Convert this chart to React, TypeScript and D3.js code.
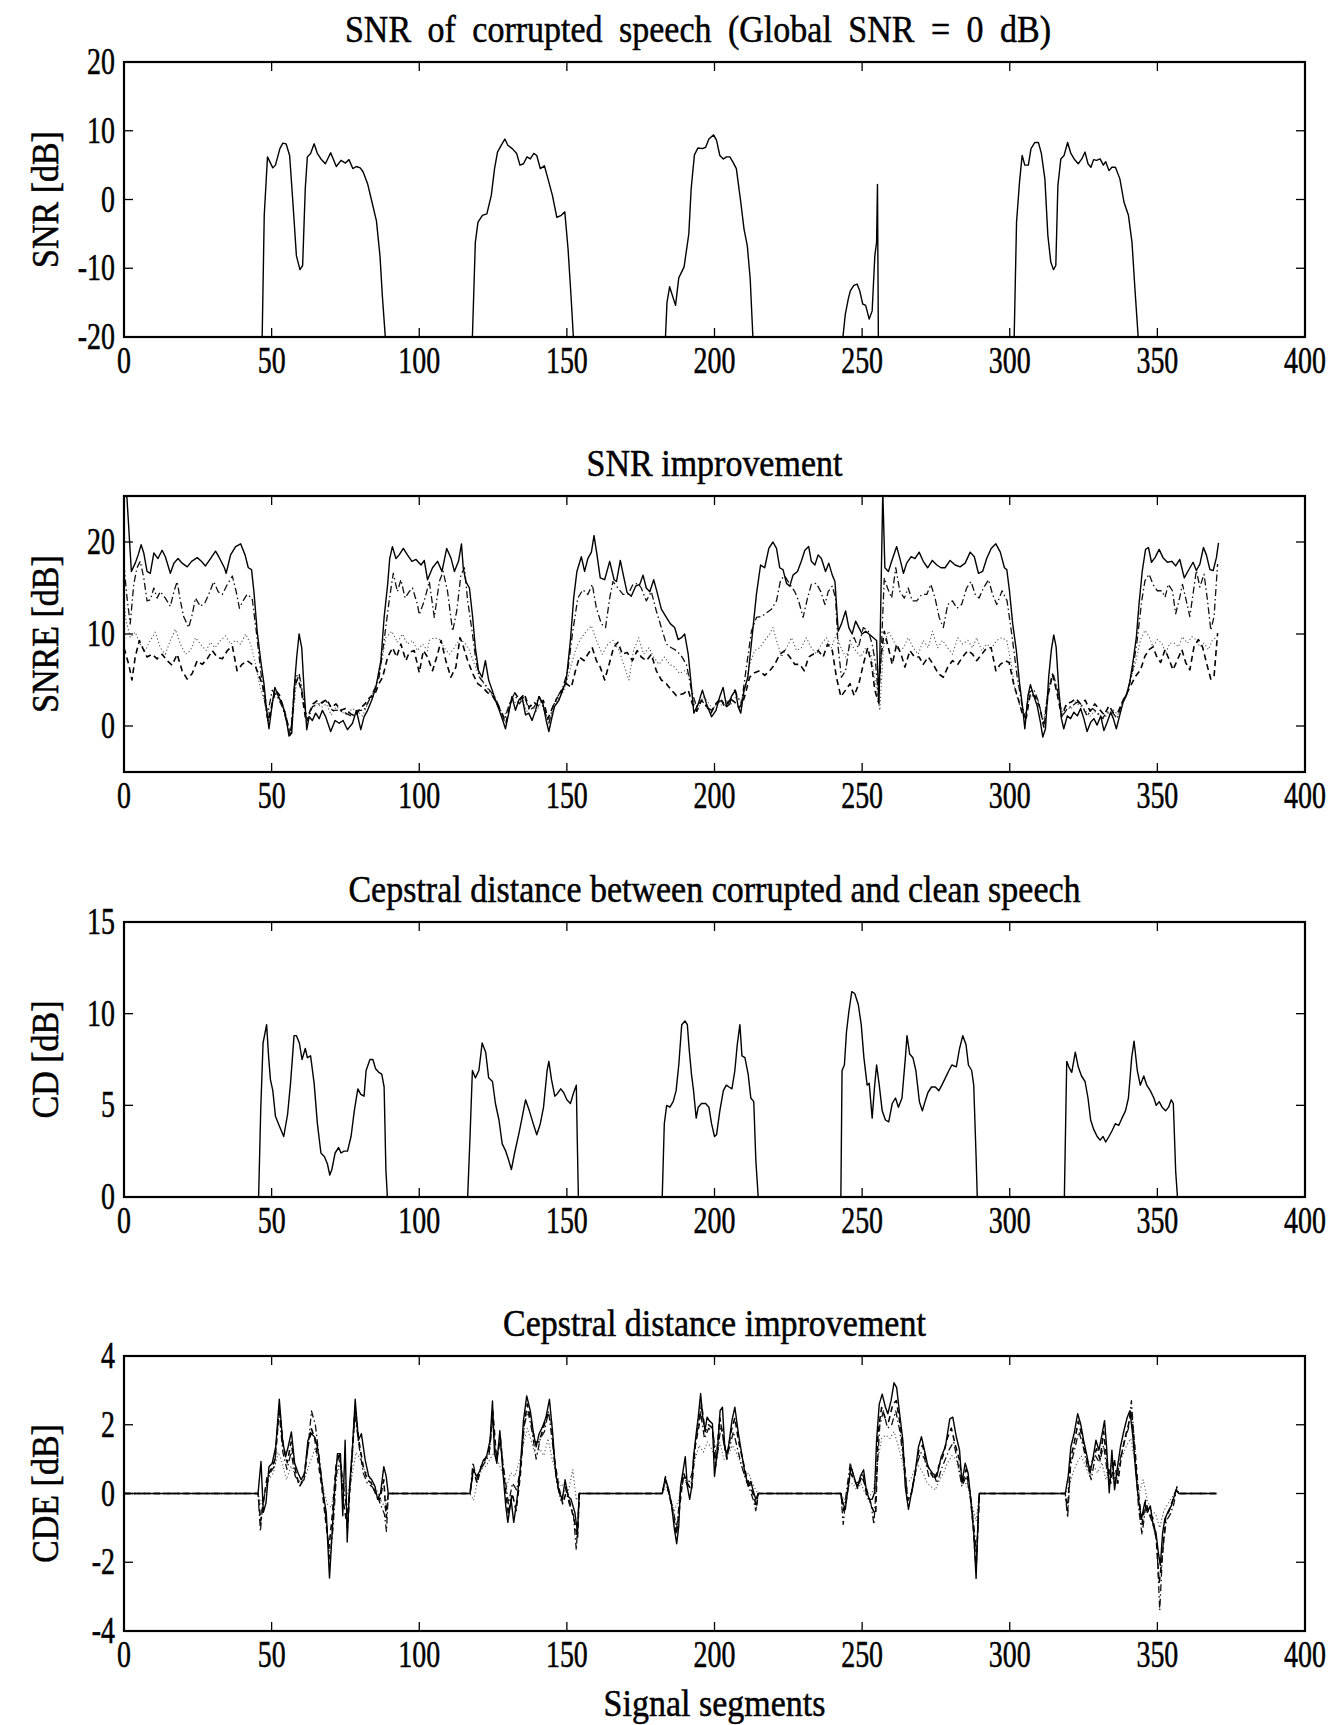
import React from "react";
import * as d3 from "d3";

type Pt = [number, number];

// x axis shared by all four panels
const xTicks = [0, 50, 100, 150, 200, 250, 300, 350, 400];

// panel 1: SNR of corrupted speech
const snrTicks = [-20, -10, 0, 10, 20];
const snrCorrupted: Pt[] = [
  [0, -20], [46.8, -20], [47.5, -2.3], [48.6, 6.2], [50.4, 4.6], [51.3, 5], [52.8, 7.4], [53.8, 8.2], [54.9, 8.1],
  [56.1, 6.4], [57.2, -0.4], [58.4, -8.2], [59.6, -10.2], [60.5, -9.6], [61.4, 1.6], [62.1, 6.2], [63.2, 6.7],
  [64.4, 8.1], [65.5, 6.7], [66.7, 5.9], [68.2, 5.2], [70, 6.8], [71.9, 4.8], [73.5, 5.7], [75, 5.3], [76.2, 5.8],
  [77.5, 4.5], [78.7, 4.8], [80, 4.6], [81, 4], [82.5, 2.3], [84, -0.4], [85.5, -3.1], [86.7, -8.2], [87.5, -14],
  [88.5, -20], [118, -20], [119, -6.2], [119.9, -3.3], [121.4, -2.3], [122.9, -2.1], [124.4, 0.6], [125.5, 4.5],
  [126.5, 6.9], [127.8, 7.9], [129, 8.8], [130, 7.9], [131.5, 7.4], [133, 6.7], [134.1, 5], [135.3, 5.2],
  [136.5, 6.2], [137.6, 5.9], [138.8, 6.7], [139.8, 6.4], [141, 4.5], [142.4, 4.9], [143.6, 3], [145.1, 0.6],
  [146.6, -2.6], [148.1, -2.3], [149.3, -1.8], [150.4, -7.2], [151.4, -14], [152.2, -20], [183.4, -20],
  [183.9, -15], [184.8, -12.7], [186.8, -15.4], [187.9, -11.4], [189.7, -9.8], [191.3, -5], [192.1, 1.6],
  [193.2, 6.5], [194.4, 7.5], [195.9, 7.4], [197, 7.6], [198.1, 8.8], [199.7, 9.4], [200.7, 8.6], [201.8, 6.4],
  [203, 5.9], [204.1, 6.2], [205.2, 6.2], [206.3, 5.4], [207.4, 4.5], [208.9, -0.4], [210, -4.3], [211.1, -6.7],
  [212.1, -11.6], [213, -20], [243.5, -20], [244.3, -16.7], [245.3, -14.5], [246, -13.3], [247.2, -12.5],
  [248.3, -12.3], [249.2, -13.3], [250.2, -15.2], [251.2, -15.4], [252.4, -17.4], [253.4, -16.2], [254.3, -8.2],
  [254.9, -6.2], [255.2, 2.2], [255.5, -20], [301.5, -20], [302.3, -3.3], [303.3, 2.5], [304.2, 6.4], [305.1, 5],
  [306.3, 5], [307.2, 7.4], [308.5, 8.3], [309.7, 8.3], [310.7, 6.7], [311.9, 3], [312.9, -5.2], [313.9, -9.1],
  [314.8, -10.2], [315.6, -9.6], [316.3, 2], [317.3, 5.9], [318.4, 6.4], [319.6, 8.3], [320.7, 6.7], [321.8, 5.9],
  [323.2, 5.2], [324.4, 5.9], [325.5, 6.9], [326.5, 5.2], [327.5, 4.7], [328.4, 5.8], [329.4, 5.7], [330.6, 5.9],
  [331.7, 5], [332.5, 5.5], [333.6, 4.2], [334.6, 4.7], [335.8, 4.7], [337.3, 3], [338.7, -0.4], [340.2, -2.3],
  [341.4, -6.2], [342.4, -13], [343.5, -20], [370, -20],
];

// panel 2: SNR improvement, four methods
const snreTicks = [0, 10, 20];
const snreSolid: Pt[] = [
  [0, 25.5], [1, 24.8], [2.5, 16.8], [3.8, 17.7], [4.8, 18.6], [5.8, 19.7], [6.7, 18.8], [7.8, 16.8], [8.9, 16.6],
  [10.1, 18.8], [11.5, 18.2], [12.9, 19.1], [14, 18.4], [15.7, 16.6], [16.9, 17.7], [18.3, 18.2], [19.7, 17.7],
  [21.4, 17.3], [22.9, 17.9], [24.8, 18.3], [26.2, 17.9], [27.6, 17.4], [29.3, 18.2], [31, 19], [32.1, 18.4],
  [34, 17.2], [34.6, 16.6], [36.1, 18.6], [37.8, 19.5], [39.5, 19.8], [41, 18.6], [42.1, 17.2], [43.2, 17],
  [44, 14.6], [45.1, 10.3], [46.3, 7.1], [47.4, 4.6], [48.3, 1.7], [49.1, -0.3], [50.2, 2.4], [51.1, 4.2],
  [52.3, 3.2], [53.6, 2.4], [54.8, 1], [55.9, -1.1], [56.8, -0.8], [57.6, 3.9], [58.5, 7.5], [59.3, 10],
  [60.2, 8.5], [61, 3.9], [61.9, -0.4], [62.7, 1], [63.8, 0.6], [64.9, 1.4], [66.1, 0.8], [67.2, 1.7], [68.3, 1],
  [70, -0.6], [71.5, 0.6], [72.9, 0.3], [74.2, 0.6], [75.7, -0.4], [77.4, 0.3], [78.7, 1.7], [80.2, -0.4],
  [81.3, 1], [82.5, 1.7], [83.9, 2.8], [85.3, 4.2], [87, 7.1], [88.1, 11.8], [89.3, 15.4], [90, 18.2],
  [90.9, 19.5], [92.1, 18.2], [93.2, 18.6], [94.6, 19.3], [96, 18.6], [97.5, 17.9], [98.9, 18.1], [100.6, 17.5],
  [101.7, 18], [102.8, 15.9], [104.5, 17.2], [106.2, 17.9], [107.7, 16.8], [109.3, 19.3], [110.8, 18.2],
  [111.9, 16.8], [113.3, 17.9], [114.3, 19.8], [114.9, 17.2], [115.8, 15.7], [117, 15], [118.1, 11.8], [119, 8.5],
  [120.1, 6], [121.3, 5.3], [122.4, 7.1], [123.5, 5], [124.7, 3.9], [125.8, 2.8], [127.1, 1.7], [128.3, 0.6],
  [129.2, -0.3], [130.3, 1.4], [131.4, 3.2], [132.6, 1.7], [133.7, 2.8], [134.8, 3.2], [136, 1.2], [137.1, 1.4],
  [138.2, 0.6], [139.4, 1.7], [140.5, 3.2], [141.9, 2.4], [143, 0.6], [143.9, -0.6], [144.7, 0.6], [145.8, 2.1],
  [147.3, 2.8], [148.6, 3.9], [149.8, 5], [151.2, 9.3], [152.3, 13.9], [153.4, 16.8], [154.9, 18.4], [156, 16.8],
  [157.1, 18.2], [158.3, 18.9], [159.2, 20.7], [160.2, 18.6], [161.3, 16.1], [162.8, 15.9], [164.5, 17.9],
  [166, 15.9], [166.8, 15.7], [168.1, 18], [169.2, 16.3], [170.4, 14.5], [171.8, 14.1], [173.3, 15.2],
  [174.7, 15.4], [175.8, 16.4], [176.9, 15], [178.1, 14.6], [179.4, 15.9], [180.5, 14.6], [182, 12.7],
  [183.7, 11.8], [185.1, 11.1], [186.5, 10.7], [187.7, 9.4], [188.8, 9.6], [189.9, 10], [191.1, 7.8], [192.2, 4.2],
  [193, 1.4], [194.5, 2.4], [195.9, 3.9], [197.3, 2.4], [199, 1], [200.5, 1.7], [201.8, 3.2], [202.9, 4.2],
  [204.1, 2.1], [205.2, 2.4], [205.7, 3.2], [207.1, 3.9], [208, 2.1], [208.9, 1.4], [210, 3.9], [211.3, 5.3],
  [212.7, 9.6], [214.2, 14.3], [215.6, 17.5], [217, 17.2], [218.4, 19.3], [219.8, 20], [221, 19.3], [222.1, 17.2],
  [223.2, 17], [224.4, 15.5], [225.5, 15.2], [226.6, 16.4], [228.1, 16.8], [229.4, 17.9], [230.6, 19.1],
  [231.9, 19.5], [232.8, 17.9], [234, 17.5], [235.1, 18.6], [236.2, 18.2], [237.6, 16.8], [238.7, 17.7],
  [239.9, 16.4], [240.8, 15.7], [241.9, 10.3], [243, 11.1], [244.4, 12.5], [245.5, 10.7], [246.6, 10],
  [247.8, 11.4], [248.9, 10.7], [250, 10], [251.2, 10.3], [252.3, 10], [253.8, 9.6], [254.9, 9.3], [255.7, 2.4],
  [256.1, 9.3], [257, 25.5], [257.7, 17.2], [258.9, 16.8], [260, 17.9], [261.7, 19.5], [262.8, 18.2], [264, 16.6],
  [265.1, 17.7], [266.6, 18.4], [267.9, 18.2], [269.3, 18.9], [270.7, 17.9], [272.2, 17.2], [273.8, 18],
  [275.3, 17.5], [276.7, 17.2], [278.1, 17.2], [279.8, 18], [281.5, 17.5], [283.2, 17.3], [284.9, 17.7],
  [286.6, 18.9], [288, 18.4], [289.4, 16.6], [290.8, 16.8], [292.2, 18.2], [293.7, 19.3], [295.3, 19.8],
  [296.8, 18.9], [298.2, 17.2], [299, 17], [299.9, 14.7], [301, 11.1], [302.2, 8.3], [303.3, 4.7], [304.4, 1.9],
  [305.1, -0.3], [306.2, 3.3], [307, 4.5], [308.1, 3.3], [309.3, 2.2], [310.4, 0.4], [311.2, -1.2], [312.1, -0.3],
  [313.2, 5.4], [314.1, 8.3], [314.9, 9.9], [315.7, 8.6], [316.6, 4], [317.5, 0.8], [318.3, -0.3], [319.5, 1.1],
  [320.6, 0.8], [321.7, 1.5], [322.9, 1.1], [324, 1.9], [325.1, 0.8], [326.2, -0.6], [327.4, 0.4], [328.5, 0.8],
  [329.6, 0.1], [330.8, 1.1], [331.9, -0.5], [333, 0.4], [334.2, 1.5], [335.1, 0.8], [336.1, -0.3], [337.2, 1.1],
  [338.4, 2.6], [339.5, 3.3], [340.6, 4.7], [341.7, 6.9], [342.9, 9.7], [343.8, 13.3], [344.9, 16.9], [346, 19.2],
  [347, 19.4], [348, 17.8], [349.2, 18.3], [350.6, 19.2], [351.9, 18.3], [353.4, 17.8], [354.9, 17.9],
  [356.2, 17.4], [357.6, 18.1], [359.1, 16.1], [360.5, 16.9], [362.1, 17.8], [363.2, 16.9], [364.4, 17.6],
  [365.6, 19.4], [366.6, 18.6], [367.8, 17], [368.9, 16.9], [370, 18.3], [370.7, 19.9],
];
const snreDashDot: Pt[] = [
  [0, 17.5], [1, 14], [2.1, 11.1], [3.3, 15.4], [4.4, 17.2], [5.5, 17.9], [6.7, 16.1], [7.8, 13.6], [8.9, 13.7],
  [10.1, 15], [11.2, 13.9], [12.3, 14.6], [14, 13.9], [15.7, 13], [16.9, 14.6], [18, 15.7], [19.1, 13.6],
  [20.2, 11.9], [21.9, 10.7], [23.1, 12.1], [24.2, 13.9], [25.9, 13], [27.4, 13.4], [28.7, 14.3], [30.4, 15.7],
  [31.9, 14.6], [33.3, 14.3], [35, 15.4], [36.7, 16.3], [38, 14.6], [39.1, 12.8], [40.3, 13.6], [41.7, 14.3],
  [43.4, 13.9], [44.8, 10.3], [46.3, 6], [47.4, 3.2], [48.5, 1], [50.2, 3.9], [51.9, 3.2], [53.6, 2.1],
  [55.3, 0.3], [56.4, -1.1], [58.1, 5.3], [59.3, 5.7], [60.6, 3.2], [62.1, 0.6], [63.8, 2.1], [66.1, 2.4],
  [68.3, 2.8], [70.6, 1.7], [72.9, 1.7], [75.1, 1.4], [77.4, 1], [79.1, 1.7], [81.3, 1.7], [83, 2.8], [84.7, 3.9],
  [86.4, 5.3], [88.1, 9.3], [89.8, 13.6], [91.2, 16.6], [92.6, 14.6], [93.8, 15.9], [95.2, 13.9], [96.6, 14.6],
  [97.7, 15], [99.4, 13.2], [100, 12.1], [101.7, 13.6], [103.4, 15.7], [105.1, 11.8], [106.8, 15.7], [108.1, 16.8],
  [109.6, 14.6], [111.3, 10.3], [112.7, 12.5], [114.1, 16.4], [115.3, 17.2], [116.4, 13.6], [117.9, 10.3],
  [119.2, 7.1], [120.4, 5.3], [122.1, 4.6], [123.8, 3.9], [125.5, 3.2], [127.1, 2.1], [128.8, 0.6], [130.5, 2.4],
  [132.2, 3.5], [133.9, 2.4], [135.6, 3.2], [137.3, 1.7], [139, 2.1], [140.7, 3.2], [142.4, 1.7], [143.9, 0.3],
  [145.2, 2.1], [146.9, 3.2], [148.6, 4.2], [150.3, 6], [152, 10.3], [153.7, 13.9], [155.4, 14.8], [157.1, 14.3],
  [158.6, 15.4], [160, 12.8], [161.7, 11.1], [163.1, 10.7], [164.5, 13.9], [165.6, 15.7], [167.3, 15], [169, 14.3],
  [170.7, 14.3], [172.4, 15.4], [174.1, 15.5], [175.2, 15], [176.9, 13.6], [178.6, 14.6], [180.3, 12.5],
  [182, 10.7], [183.7, 8.9], [185.4, 8.5], [187.1, 8.2], [188.8, 7.6], [190.5, 6.7], [192.2, 3.9], [193.9, 2.1],
  [195.6, 2.8], [197.3, 2.1], [199, 1.7], [200.7, 2.4], [202.4, 2.8], [204.1, 2.1], [206.8, 3.9], [209.1, 2.4],
  [210.8, 6.4], [212.5, 10.3], [214.2, 11.8], [215.9, 11.9], [217.6, 12.3], [219.3, 12.7], [221, 13.6],
  [222.4, 15.9], [223.8, 16.3], [225.5, 15.4], [227.2, 14.6], [228.5, 13.6], [230, 11.8], [231.5, 13.9],
  [232.8, 15.4], [234.5, 15.5], [236, 14.6], [237.4, 13.2], [238.5, 14.6], [239.9, 15.2], [241, 13.9],
  [241.9, 8.5], [243, 5.3], [244.4, 6], [245.9, 9.3], [247.3, 9.6], [248.7, 8.5], [250.4, 10.7], [252.1, 10.3],
  [253.4, 8.9], [254.6, 6.7], [255.5, 3.2], [256.4, 7.5], [257.5, 16.1], [258.6, 15], [260, 13.9], [261.4, 17.2],
  [262.8, 14.6], [264.3, 13.9], [265.6, 15], [267, 13.6], [268.5, 13.6], [270.2, 14.3], [271.9, 14.3],
  [273.3, 15.4], [274.7, 13.9], [276.1, 11.8], [277.5, 10.7], [279, 13.2], [280.6, 13.6], [282.1, 12.8],
  [283.7, 13.2], [285.4, 15], [286.9, 15.7], [288.3, 14.3], [289.6, 13.9], [291.1, 15], [292.8, 15.9],
  [294.2, 14.3], [295.6, 13.2], [297.4, 14.7], [299.1, 13.6], [300.8, 9.7], [302.5, 5.4], [304.2, 2.2],
  [305.3, 0.8], [306.4, 3.6], [308.1, 4], [309.8, 2.6], [311.5, 0.1], [313.2, 4], [314.6, 5.8], [316.1, 4],
  [317.8, 1.1], [319.5, 1.9], [321.2, 2.2], [322.9, 2.6], [324.5, 2.2], [326.2, 1.1], [328, 1.9], [329.6, 1.5],
  [331.3, 0.8], [333, 1.5], [334.7, 1.5], [336.4, 0.8], [338.1, 2.6], [339.8, 3.6], [341.5, 5.8], [343.2, 9.4],
  [344.7, 13.6], [345.8, 15.8], [347.2, 16.5], [348.5, 15.4], [350, 14.7], [351.5, 14.7], [352.6, 14],
  [353.7, 15.4], [355.1, 14.7], [356.2, 12.2], [357.6, 14], [358.5, 15.4], [359.8, 13.6], [361, 11.9],
  [362.1, 14.4], [363.2, 16.9], [364.4, 15.1], [365.8, 16.5], [367, 13.6], [368.1, 10.4], [369.2, 11.9],
  [370.4, 17.6],
];
const snreDotted: Pt[] = [
  [0, 14], [0.5, 11.8], [2.1, 9.6], [3.8, 10.2], [5.5, 8.9], [7.2, 8.2], [8.9, 9.3], [10.6, 10.2], [12.3, 8.5],
  [14, 7.8], [15.7, 9.3], [17.4, 10.5], [19.1, 8.9], [20.8, 7.8], [22.5, 8.2], [24.2, 9.6], [25.9, 8.9],
  [27.8, 8.2], [29.3, 9.1], [30.8, 8.5], [32.7, 9.3], [34.4, 9.8], [36.1, 8.9], [37.8, 9.3], [39.5, 8.9],
  [41.2, 10], [42.9, 8.9], [44.6, 6.7], [46.3, 3.9], [48, 2.4], [49.5, 0.8], [50.5, 2.8], [51.8, 3.6], [53.2, 2.6],
  [54.6, 1.6], [56, -0.6], [57, 0.2], [58.4, 4.8], [59.5, 5.6], [60.6, 3.5], [62, 0.4], [63.5, 1.9], [65, 2.6],
  [66.8, 2], [68.5, 2.4], [70.2, 1.2], [72, 2.1], [73.8, 1.5], [75.6, 1.2], [77.3, 1.9], [79, 1.6], [80.8, 1.1],
  [82.5, 2.4], [84.2, 3.5], [85.8, 4.8], [87.3, 7], [88.7, 9.6], [90.7, 10.3], [92.6, 9.1], [94.3, 10], [96, 8.9],
  [97.7, 9.3], [99.4, 8.2], [101.1, 8.9], [102.8, 8.2], [103.4, 9.3], [105.1, 9.6], [106.8, 9.4], [108.5, 8.5],
  [110.2, 7.8], [111.9, 8.5], [113.6, 9.4], [115.3, 9.1], [117, 8.2], [118.7, 6.7], [120.4, 5.3], [122, 4.5],
  [123.6, 3.8], [125.2, 3], [126.8, 2.2], [128.5, 1], [130, 1.8], [131.6, 3], [133.2, 2.2], [134.8, 2.9],
  [136.4, 1.6], [138, 2.2], [139.6, 1.6], [141.2, 2.6], [142.8, 1.2], [144, 0.4], [145.4, 1.8], [147, 2.9],
  [148.6, 3.6], [149.8, 4.6], [151.5, 6.7], [153.2, 8.5], [154.9, 9.6], [156.6, 10.3], [158.3, 10.9], [160, 9.3],
  [162, 7.8], [163.9, 8.9], [165.6, 9.3], [167.7, 8.2], [169.2, 6.7], [171, 5], [172.6, 8.2], [174.3, 9.6],
  [176, 7.8], [177.8, 8.5], [179.4, 7.5], [181.2, 6.7], [183.1, 7.5], [184.8, 6.7], [186.5, 6.4], [188.2, 5.7],
  [189.9, 6], [191.6, 5.3], [193, 2.4], [194.6, 2], [196.2, 3.2], [197.8, 2.6], [199.4, 1.8], [201, 2.6],
  [202.6, 2.2], [204.2, 2.8], [205.8, 2.4], [207.4, 3.3], [208.8, 2.6], [210.2, 3.9], [211.9, 6.7], [213.6, 8.2],
  [215.3, 8.5], [217, 9.3], [218.7, 10], [219.8, 10.7], [221, 9.3], [222.7, 7.5], [224.4, 8.5], [226.1, 9.6],
  [227.8, 8.2], [229.4, 8.5], [231.1, 9.6], [232.8, 8.5], [234.5, 7.8], [236.2, 8.9], [237.9, 9.6], [239.6, 8.5],
  [241.3, 10], [242.8, 8.5], [244.4, 7.5], [246.2, 8.9], [247.8, 8.2], [249.6, 7.5], [251.2, 8.5], [253, 7.8],
  [254.6, 4.6], [256, 1.7], [257.2, 8.5], [258.9, 10.3], [260.6, 9.3], [262.3, 8.2], [264, 8.5], [265.6, 9.6],
  [267.3, 8.5], [269, 7.8], [270.7, 9.3], [272.4, 8.5], [273.8, 10.3], [275.6, 8.5], [277.2, 9.3], [279, 8.5],
  [280.6, 7.8], [282.4, 9.6], [284, 8.9], [285.8, 9.3], [287.4, 8.5], [288.8, 9.6], [290.5, 8.2], [292.2, 8.9],
  [293.9, 8.5], [295.6, 9.3], [297.3, 9.6], [299, 9.3], [300.5, 6.7], [301.8, 3.9], [303.5, 2.1], [305, 1],
  [306.6, 3], [308.2, 3.4], [309.8, 2.6], [311.4, 0.4], [312.8, 3.6], [314.4, 5.4], [315.8, 4.2], [317.4, 1.4],
  [319, 2.2], [320.6, 1.8], [322.2, 2.6], [323.8, 2.2], [325.4, 1.8], [327, 1], [328.6, 1.6], [330.2, 1.2],
  [331.8, 0.8], [333.4, 1.4], [335, 1.8], [336.6, 1.2], [338.2, 2.6], [339.3, 3.3], [341, 5.1], [342.6, 6.9],
  [344.3, 9.4], [345.8, 10.4], [347.2, 9.7], [348.5, 8.6], [350, 9.4], [351.5, 9], [352.8, 7.9], [354.2, 9],
  [355.7, 9], [357.1, 8.6], [358.5, 9.7], [360.2, 9], [361.7, 9.7], [363, 9.4], [364.4, 8.6], [365.8, 9],
  [367.3, 8.3], [368.7, 9.4], [370.4, 9.7],
];
const snreDashed: Pt[] = [
  [0, 8.5], [1.6, 6.7], [2.7, 5], [3.8, 7.5], [5.2, 9.3], [6.3, 8.5], [7.8, 7.5], [9.5, 7.8], [11.2, 7.3],
  [12.9, 7.8], [14.6, 7.1], [16.3, 6.6], [18, 7.8], [19.7, 6], [21.4, 5.1], [23.1, 5.7], [24.8, 7.1], [26.5, 6.7],
  [28.2, 7.3], [29.9, 8.2], [31.5, 7.5], [33.3, 7.3], [35, 8.2], [36.7, 8.7], [38.3, 6], [40, 6.7], [41.7, 7.1],
  [43.4, 6.7], [44.6, 6.4], [46.3, 5], [47.5, 3.8], [48.8, 0.5], [50, 2.2], [51.3, 3.9], [52.6, 3.4], [54, 2],
  [55.5, 0.2], [56.6, -0.5], [57.8, 4.2], [58.8, 5.2], [60, 4], [61.4, 1], [62.6, 1.3], [64, 2.4], [65.6, 2.8],
  [67, 2.5], [68.6, 2.9], [70.2, 2], [71.8, 2.4], [73.5, 1.7], [75, 1.9], [76.8, 1.3], [78.4, 1.1], [80, 1.9],
  [81.6, 2.4], [83.2, 3.1], [84.8, 3.3], [86.2, 4.5], [87.6, 5.3], [89.3, 7.5], [91, 8.5], [92.3, 7.5],
  [93.8, 8.9], [95.5, 7.1], [96.6, 8], [98.3, 8.2], [100, 5.8], [101.4, 8.2], [102.8, 7.5], [104.5, 6],
  [106.2, 7.8], [107.4, 9.3], [109, 7.1], [110.7, 5.3], [112.4, 6.4], [113.8, 9.6], [114.7, 8.9], [116.4, 7.1],
  [118.1, 5.7], [119.8, 4.6], [121.5, 4.2], [123.2, 3.6], [124.8, 3.3], [126.4, 2.4], [128, 1.4], [129.4, 0.4],
  [130.8, 2.4], [132.4, 3.6], [134, 2.8], [135.6, 3.5], [137.2, 2], [138.8, 2.6], [140.4, 2.2], [142, 2.8],
  [143.6, 0.8], [145, 1.9], [146.6, 3], [148.2, 3.8], [149.8, 4.6], [151.5, 4.2], [152.9, 6], [154.3, 7.5],
  [155.8, 7.1], [157.1, 7.8], [158.6, 8.5], [160, 7.1], [161.3, 6.4], [162.8, 5], [164.3, 6.7], [165.8, 8.5],
  [167.3, 9.1], [168.8, 7.8], [170.4, 8], [172.2, 7.1], [173.8, 8.2], [175.2, 7.5], [176.9, 7.1], [178.6, 7.8],
  [180.3, 6], [182, 5], [183.7, 4.6], [185.4, 3.9], [187.1, 3.3], [189.4, 3.5], [191.1, 3.9], [192.5, 2.4],
  [194, 1.6], [195.6, 2.8], [197.2, 2.2], [198.8, 1.4], [200.4, 2.4], [202, 3], [203.6, 2], [205.2, 3],
  [206.8, 2.6], [208.4, 2], [209.6, 2.6], [210.2, 3.2], [211.9, 5.3], [213.6, 5.8], [215.3, 6], [217, 5.5],
  [218.7, 6], [220.4, 6.7], [222.1, 7.8], [223.8, 8.2], [225.5, 7.5], [227.2, 6.7], [228.9, 6.7], [230.4, 6],
  [231.9, 7.5], [233.4, 7.8], [235.1, 8.2], [236.8, 7.5], [238.3, 8.9], [239.9, 8.2], [241.3, 5.3], [242.8, 3.2],
  [244.4, 3.9], [245.9, 4.6], [247.3, 3.3], [248.9, 4.6], [250.4, 6.7], [251.9, 8.5], [253.2, 6.7], [254.3, 3.9],
  [255.5, 2.6], [256.4, 7.5], [257.5, 10.3], [258.9, 8.5], [260.2, 6.7], [261.7, 8.9], [263.2, 7.8], [264.5, 6.4],
  [266.2, 8.2], [267.7, 7.5], [269.3, 7.5], [270.7, 6.7], [272.4, 7.5], [274.1, 6.7], [275.8, 5.7], [277.5, 5.3],
  [279, 6.4], [280.6, 7.1], [282.4, 6.7], [284, 7.5], [285.8, 8.2], [287.4, 7.8], [288.8, 7.1], [290.5, 7.8],
  [292.2, 8.5], [293.7, 8.5], [295.3, 6], [296.8, 6.7], [298.5, 7.1], [299.8, 6.9], [301.3, 4.6], [303, 2.8],
  [304.4, 1.2], [305.6, 0.9], [307, 3.6], [308.6, 3.2], [310.2, 2], [311.6, -0.2], [313, 3.4], [314.5, 5.6],
  [316, 3.6], [317.6, 1], [319.2, 2.4], [320.8, 2.6], [322.4, 3], [324, 2.4], [325.6, 2.8], [327.2, 1.6],
  [328.8, 2.4], [330.4, 1.8], [332, 1.2], [333.6, 2.2], [335.2, 1.4], [336.8, 1.6], [338.4, 2.8], [339.3, 3.3],
  [341, 4.4], [342.6, 5.4], [344.3, 6.1], [345.8, 7.6], [347.2, 8.3], [348.5, 8.6], [349.7, 7.6], [351.1, 6.9],
  [352.6, 8.3], [354, 7.2], [355.3, 6.1], [356.8, 7.2], [358.3, 8.3], [359.6, 6.9], [361, 6.1], [362.4, 8.6],
  [363.9, 9.4], [365.3, 8.6], [366.6, 6.9], [368.1, 5.1], [369.2, 5.4], [370.4, 10.1],
];

// panel 3: cepstral distance, corrupted vs clean
const cdTicks = [0, 5, 10, 15];
const cdCorrupted: Pt[] = [
  [0, 0], [45.6, 0], [46.3, 4.7], [47.1, 8.4], [48.3, 9.4], [49, 7.6], [49.6, 6.4], [50.4, 5.8], [51.3, 4.4],
  [52.3, 4], [54.1, 3.3], [55.4, 4.5], [56.4, 6.2], [57.6, 8.8], [58.4, 8.8], [59.4, 8.4], [60.3, 7.5], [61.4, 8.1],
  [62.1, 7.6], [63.2, 7.7], [64.4, 6.2], [65.5, 4], [66.7, 2.4], [67.9, 2.2], [68.9, 1.8], [69.7, 1.2], [70.4, 1.5],
  [71.5, 2.4], [72.7, 2.7], [73.5, 2.4], [74.5, 2.5], [75.7, 2.5], [76.9, 3.3], [78, 4.7], [79.2, 5.9], [80.2, 5.6],
  [81.3, 5.5], [82, 6.9], [83.3, 7.5], [84.3, 7.5], [85.2, 7], [86.3, 6.8], [87.3, 6.7], [88.1, 6], [88.7, 1.5],
  [89.2, 0], [116.4, 0], [117.2, 3.3], [118, 6.9], [119, 6.5], [120.2, 6.9], [121.3, 8.4], [122.5, 7.9],
  [123.5, 6.5], [124.8, 6.3], [125.8, 5.1], [127, 4.2], [128.1, 2.9], [129.3, 2.5], [130.3, 2], [131.2, 1.5],
  [132.3, 2.4], [133.8, 3.5], [134.8, 4.3], [136, 5.3], [137.3, 4.7], [138.6, 4], [139.8, 3.4], [141, 4],
  [142.1, 4.9], [143.3, 6.9], [143.9, 7.4], [144.8, 6.4], [145.9, 5.5], [146.6, 5.6], [147.9, 5.9], [148.9, 5.7],
  [150, 5.3], [151.2, 5.1], [152.3, 5.7], [153.2, 6.1], [153.5, 3.3], [153.9, 0], [182.3, 0], [183, 4], [183.8, 5],
  [184.9, 4.9], [186, 5.2], [187, 5.8], [187.9, 7.2], [188.9, 9.4], [190, 9.6], [190.8, 9.4], [191.4, 8.1],
  [192.2, 6.7], [192.9, 5.8], [193.8, 4.3], [194.5, 4.9], [195.6, 5.1], [197, 5.1], [198.1, 4.9], [199, 4],
  [200, 3.3], [200.7, 3.4], [201.8, 4.7], [203, 5.8], [204, 6.1], [204.9, 6], [205.9, 5.9], [206.9, 6.9],
  [207.7, 8.3], [208.6, 9.4], [209.3, 7.7], [210.3, 7.6], [211.4, 6.7], [212.3, 5.4], [213.3, 5.2], [214, 2],
  [214.8, 0], [242.8, 0], [243.2, 6.9], [244, 7.2], [244.7, 9], [245.5, 10.1], [246.5, 11.2], [247.5, 11.1],
  [248.7, 10.5], [249.7, 9.4], [250.6, 7.6], [251.7, 6.1], [252.4, 6.2], [253.4, 4.3], [254.2, 6], [254.9, 7.2],
  [255.8, 6.1], [256.8, 4.7], [257.9, 4.2], [259, 4.1], [260.2, 5.1], [261.3, 5.4], [262.3, 4.9], [263.5, 5.4],
  [264.7, 7.7], [265.2, 8.8], [266.1, 7.8], [267.2, 7.6], [268.2, 6.9], [269.4, 5.2], [270.4, 4.7], [271.3, 5.2],
  [272.3, 5.7], [273.5, 6], [274.8, 6], [276, 5.8], [277, 6.1], [278.2, 6.5], [279.4, 6.9], [280.4, 7.2],
  [281.9, 7.1], [283, 8.1], [284.1, 8.8], [285.2, 8.3], [286, 7.2], [287.1, 6.9], [287.8, 6.1], [288.6, 2.2],
  [289, 0], [318.5, 0], [319.3, 7.4], [320, 7.1], [321, 6.8], [322.2, 7.9], [323.2, 7.1], [324.3, 6.6],
  [325.5, 6.3], [326.5, 5.4], [327.4, 4.2], [328.4, 3.7], [329.6, 3.3], [330.6, 3.1], [331.6, 3.3], [332.5, 3],
  [333.6, 3.3], [334.6, 3.6], [335.8, 4], [336.9, 3.9], [338, 4.3], [339.2, 4.7], [340.2, 5.4], [341.3, 7.6],
  [342.1, 8.5], [343.2, 6.9], [344.2, 6.1], [345.4, 6.6], [346.4, 6.1], [347.6, 5.8], [348.8, 5.4], [349.6, 5],
  [350.6, 5.2], [351.6, 4.9], [352.8, 4.7], [353.8, 4.9], [354.7, 5.3], [355.4, 5.1], [356.2, 1.4], [356.8, 0],
  [370, 0],
];

// panel 4: cepstral distance improvement, four methods
const cdeTicks = [-4, -2, 0, 2, 4];
const cdeSolid: Pt[] = [
  [0, 0], [45.4, 0], [46.4, 0.93], [47.2, -0.55], [48.1, -0.27], [49.1, 0.78], [50.2, 0.88], [51.4, 1.36],
  [52.6, 2.74], [53.7, 1.55], [54.7, 1.07], [55.6, 1.36], [56.7, 1.79], [57.8, 0.88], [59, 0.59], [60, 0.4],
  [61.2, 0.59], [62.3, 1.55], [63.5, 1.74], [64.6, 1.64], [65.5, 1.36], [66.5, 0.69], [67.6, -0.08], [68.5, -0.55],
  [69.6, -2.46], [70.5, -1.13], [71.4, 0.21], [72.3, 1.16], [73.3, 1.16], [74.1, -0.65], [74.9, 1.55],
  [75.6, -1.41], [76.4, 0.21], [77.4, 1.36], [78.3, 2.74], [79.4, 1.55], [80.4, 1.74], [81.7, 0.97], [82.9, 0.5],
  [83.9, 0.4], [85, 0.21], [85.9, -0.17], [86.9, 0.02], [88, 0.78], [88.8, 0.5], [89.5, 0], [117.2, 0],
  [118.3, 0.69], [119.5, 0.5], [120.7, 0.69], [121.7, 0.97], [122.8, 1.07], [124, 1.55], [124.8, 2.69],
  [125.5, 1.16], [126.3, 0.88], [127.3, 1.83], [128.2, 0.78], [129.3, -0.36], [130, -0.84], [131.1, -0.17],
  [132, -0.84], [133.1, -0.17], [134.1, 0.59], [135.3, 2.12], [136.4, 2.84], [137.6, 2.41], [138.7, 1.74],
  [139.6, 1.36], [140.6, 1.74], [141.7, 1.93], [142.9, 2.21], [144.1, 2.74], [145.2, 1.74], [146.2, 0.59],
  [147.4, 0.02], [148.5, -0.17], [149.4, 0.4], [150.4, -0.08], [151.4, -0.17], [152.7, -0.55], [153.6, -1.13],
  [154.2, 0], [182.3, 0], [183.3, 0.45], [184.5, 0.11], [185.5, -0.36], [186.4, -1.03], [187.2, -1.46],
  [187.9, -0.94], [188.5, 0.21], [189.4, 0.69], [190.1, 1.07], [190.8, 0.21], [191.6, -0.17], [192.3, 0.21],
  [192.9, 1.07], [193.8, 1.74], [194.5, 2.22], [195.3, 2.91], [196, 2.22], [196.8, 1.84], [197.5, 2.22],
  [198.2, 2.12], [199.3, 2.03], [200, 0.5], [201, 1.26], [201.9, 2.41], [202.7, 2.51], [203.4, 1.45],
  [204.1, 1.07], [204.9, 1.45], [205.9, 2.12], [206.9, 2.51], [208.1, 1.74], [209.2, 1.17], [210.3, 0.59],
  [211.5, 0.21], [212.3, 0.35], [213.3, 0.02], [214, -0.17], [214.8, 0], [242.8, 0], [243.5, -0.27],
  [244.3, -0.46], [245.3, 0.21], [246.2, 0.78], [247.2, 0.5], [248.4, 0.16], [249.4, 0.5], [250.5, 0.69],
  [251.4, 0.11], [252.4, -0.17], [253.4, -0.17], [254.2, 0.02], [254.9, 1.55], [255.8, 2.6], [256.8, 2.89],
  [257.9, 2.51], [258.7, 2.32], [259.8, 2.7], [260.8, 3.22], [261.7, 3.08], [262.7, 2.32], [263.8, 1.55],
  [264.6, 0.21], [265.7, -0.46], [266.7, 0.02], [267.9, 0.59], [269.1, 1.36], [270.1, 1.65], [271.1, 1.26],
  [272.3, 0.78], [273.8, 0.59], [275.3, 0.5], [276.8, 1.07], [278.2, 1.36], [279.7, 2.17], [280.7, 2.22],
  [281.9, 1.65], [283, 1.26], [283.8, 0.31], [284.9, 0.88], [285.9, 0.59], [286.8, -0.17], [287.8, -1.13],
  [288.6, -2.47], [289.3, -0.65], [289.7, 0], [318.8, 0], [319.8, 0.5], [320.7, 1.36], [321.8, 1.74], [323, 2.32],
  [324, 2.03], [325, 1.55], [326.2, 1.07], [327.2, 0.59], [328.1, 0.98], [329.2, 1.55], [330.2, 1.26],
  [331.1, 1.65], [332.1, 2.12], [332.8, 1.36], [333.7, 0.02], [334.6, 1.26], [335.5, 0.11], [336.5, 0.78],
  [337.5, 1.36], [338.7, 1.84], [339.8, 2.22], [340.7, 2.41], [341.7, 1.65], [342.7, 0.59], [343.6, -0.17],
  [344.6, -0.75], [345.7, -0.27], [346.6, -0.55], [347.6, -0.36], [348.6, -0.94], [349.5, -1.13], [350.3, -1.7],
  [351, -2.09], [351.8, -1.13], [352.5, -0.75], [353.5, -0.55], [354.7, -0.36], [355.7, -0.08], [356.5, 0.11],
  [357.2, 0], [370, 0],
];
const cdeDashDot: Pt[] = [
  [0, 0], [45.4, 0], [46.2, -1.1], [47, -0.3], [48.2, 0.2], [49.5, 0.6], [51, 0.8], [52.5, 2.4], [53.8, 1.2],
  [55.2, 0.7], [56.6, 1.2], [58, 0.5], [59.6, 0.3], [61, 0.4], [62.4, 1.4], [63.5, 2.4], [64.8, 2], [66.2, 1],
  [67.5, 0], [68.6, -0.9], [69.7, -1.9], [70.8, -1], [72, 0.6], [73.2, 1], [74.4, 0.2], [75.6, -0.6], [76.8, 0.4],
  [78.2, 2.3], [79.6, 1.4], [81, 0.6], [82.4, 0.3], [84, 0.2], [85.5, 0], [86.8, -0.3], [88.2, -0.6], [88.9, -1.1],
  [89.5, 0], [117.2, 0], [118.2, 0.9], [119.4, 0.4], [120.8, 0.7], [122.2, 0.9], [123.6, 1.1], [124.8, 2.1],
  [126, 1], [127.4, 1.5], [128.8, 0.6], [130.2, -0.3], [131.6, 0.3], [133, 0.1], [134.4, 0.8], [135.6, 2],
  [136.8, 2.4], [138.2, 1.8], [139.6, 1], [141, 1.6], [142.4, 1.8], [143.8, 2.4], [145.2, 1.4], [146.6, 0.3],
  [148, -0.2], [149.4, 0.2], [150.8, -0.3], [152.2, -0.6], [153.2, -1.65], [154.2, 0], [182.3, 0], [183.4, 0.5],
  [184.6, 0], [185.8, -0.4], [187.2, -1], [188.4, 0], [189.6, 0.5], [191, 0.2], [192.4, 0.6], [193.8, 1.6],
  [195.2, 2.4], [196.6, 1.6], [198, 1.9], [199.4, 1.8], [200.8, 1], [202.2, 2], [203.6, 1.2], [205, 1.3],
  [206.4, 1.8], [207.8, 1.3], [209.2, 0.8], [210.6, 0.4], [212, 0.1], [213.2, -0.2], [214, -0.5], [214.8, 0],
  [242.8, 0], [243.6, -0.9], [244.6, 0], [246, 0.9], [247.4, 0.4], [248.8, 0.3], [250.2, 0.6], [251.6, -0.1],
  [253, -0.3], [254, -0.9], [255, 0.6], [256, 2], [257.2, 2.4], [258.6, 1.9], [260, 2], [261.4, 2.4], [262.8, 1.8],
  [264.2, 0.8], [265.6, -0.2], [267, 0.1], [268.4, 0.8], [269.8, 1.2], [271.2, 1], [272.6, 0.5], [274, 0.6],
  [275.4, 0.3], [276.8, 0.7], [278.2, 1], [279.6, 1.3], [281, 1.5], [282.4, 0.9], [283.8, 0.2], [285.2, 0.5],
  [286.6, 0], [287.8, -0.9], [288.8, -1.8], [289.7, 0], [318.8, 0], [319.6, -0.7], [320.6, 0.8], [322, 1.3],
  [323.4, 1.8], [324.8, 1.4], [326.2, 0.8], [327.6, 0.4], [329, 1.1], [330.4, 0.9], [331.8, 1.4], [333.2, 0.5],
  [334.6, 0.9], [336, 0.3], [337.4, 1], [338.8, 1.5], [340.2, 1.9], [341.2, 2.7], [342.4, 1.2], [343.6, -0.4],
  [344.8, -1.2], [346, -0.4], [347.2, -0.6], [348.6, -0.9], [349.8, -1.4], [350.8, -3.4], [351.8, -1.6],
  [353, -0.8], [354.4, -0.6], [355.6, -0.3], [356.6, 0.2], [357.2, 0], [370, 0],
];
const cdeDotted: Pt[] = [
  [0, 0], [45.4, 0], [46.4, -0.3], [47.6, 0], [49, 0.4], [50.6, 0.6], [52.2, 1.2], [53.6, 0.9], [55, 0.4],
  [56.6, 0.8], [58.2, 0.5], [59.8, 0.3], [61.4, 0.5], [63, 0.9], [64.6, 1.3], [66, 0.9], [67.4, 0.2], [68.8, -0.3],
  [70.2, -0.4], [71.6, 0.3], [73, 0.8], [74.4, 0.4], [75.8, 0], [77.2, 0.5], [78.6, 1.2], [80, 1], [81.4, 0.7],
  [82.8, 0.5], [84.2, 0.3], [85.6, 0.1], [87, -0.2], [88.4, -0.4], [89.5, 0], [117.2, 0], [118.4, -0.2],
  [119.8, 0.4], [121.2, 0.7], [122.6, 0.8], [124, 1], [125.4, 1.2], [126.8, 0.9], [128.2, 0.6], [129.6, 0.2],
  [131, 0.6], [132.4, 0.5], [133.8, 0.9], [135.2, 1.4], [136.6, 1.9], [138, 1.5], [139.4, 1.1], [140.8, 1.3],
  [142.2, 1.1], [143.6, 1.6], [145, 1], [146.4, 0.6], [147.8, 0.2], [149.2, 0.3], [150.6, 0.1], [152, 0.7],
  [153.2, -0.2], [154.2, 0], [182.3, 0], [183.6, 0.2], [185, -0.2], [186.4, -0.5], [187.8, -0.2], [189.2, 0.3],
  [190.6, 0.4], [192, 0.3], [193.4, 1], [194.8, 1.4], [196.2, 1.2], [197.6, 1.5], [199, 1.3], [200.4, 0.9],
  [201.8, 1.5], [203.2, 1], [204.6, 1.1], [206, 1.4], [207.4, 1.2], [208.8, 0.9], [210.2, 0.5], [211.6, 0.6],
  [212.8, 0.3], [214, 0.1], [214.8, 0], [242.8, 0], [244, -0.2], [245.4, 0.2], [246.8, 0.3], [248.2, 0.1],
  [249.6, 0.3], [251, 0], [252.4, -0.1], [253.8, 0.1], [255.2, 0.9], [256.6, 1.6], [258, 1.7], [259.4, 1.6],
  [260.8, 1.8], [262.2, 1.4], [263.6, 0.9], [265, 0.3], [266.4, 0.4], [267.8, 0.7], [269.2, 0.8], [270.6, 0.6],
  [272, 0.3], [273.4, 0.2], [274.8, 0.1], [276.2, 0.4], [277.6, 0.6], [279, 0.9], [280.4, 1.1], [281.8, 1],
  [283.2, 0.5], [284.6, 0.4], [286, 0.1], [287.4, -0.4], [288.6, -0.8], [289.7, 0], [318.8, 0], [320, 0.2],
  [321.4, 0.6], [322.8, 0.9], [324.2, 1.1], [325.6, 0.8], [327, 0.5], [328.4, 0.8], [329.8, 0.6], [331.2, 0.9],
  [332.6, 0.4], [334, 0.7], [335.4, 0.3], [336.8, 0.8], [338.2, 1.1], [339.6, 1.4], [341, 1.6], [342.4, 0.9],
  [343.8, 0], [345.2, 0.4], [346.6, -0.2], [348, -0.5], [349.4, -0.6], [350.8, -1], [352.2, -0.5], [353.6, -0.3],
  [355, -0.1], [356.4, 0.1], [357.2, 0], [370, 0],
];
const cdeDashed: Pt[] = [
  [0, 0], [45.4, 0], [46.3, -0.8], [47.3, -0.2], [48.5, 0.5], [49.8, 0.7], [51.2, 1], [52.6, 2.5], [53.9, 1.4],
  [55.3, 0.9], [56.6, 1.5], [58, 0.7], [59.4, 0.2], [60.8, 0.4], [62.2, 1.3], [63.4, 1.9], [64.6, 1.6], [65.8, 0.9],
  [67, 0.2], [68.2, -0.7], [69.4, -1.6], [70.6, -0.6], [71.8, 0.8], [73.1, 1.2], [74.4, -0.3], [75.7, -1],
  [77, 0.8], [78.3, 2.5], [79.6, 1.5], [81, 0.8], [82.4, 0.4], [83.8, 0.3], [85.2, 0], [86.6, -0.2], [88, 0.4],
  [88.8, -0.7], [89.5, 0], [117.2, 0], [118.3, 0.7], [119.6, 0.3], [121, 0.8], [122.4, 1], [123.8, 1.3],
  [124.9, 2.4], [126.2, 1], [127.5, 1.6], [128.8, 0.4], [130.2, -0.6], [131.5, 0], [132.8, -0.5], [134.2, 0.5],
  [135.5, 2], [136.6, 2.6], [137.9, 2.1], [139.2, 1.5], [140.6, 1.5], [142, 1.9], [143.4, 2.3], [144.6, 2.2],
  [145.8, 1], [147.2, 0.2], [148.6, -0.3], [150, 0.1], [151.4, -0.4], [152.8, -0.9], [153.6, -1.3], [154.2, 0],
  [182.3, 0], [183.3, 0.4], [184.6, 0], [185.8, -0.5], [187.1, -1.2], [188.3, -0.3], [189.5, 0.6], [190.8, 0.3],
  [192.2, 0.1], [193.5, 1.4], [194.8, 2], [195.6, 2.6], [196.8, 1.8], [198, 2], [199.3, 1.9], [200.4, 0.8],
  [201.8, 2.2], [203, 1.6], [204.2, 1], [205.6, 1.8], [206.9, 2.2], [208.2, 1.5], [209.5, 1], [210.8, 0.5],
  [212.2, 0.2], [213.4, -0.1], [214.2, -0.4], [214.8, 0], [242.8, 0], [243.6, -0.5], [244.6, -0.2], [246, 0.6],
  [247.3, 0.4], [248.6, 0.2], [249.9, 0.5], [251.2, 0.2], [252.6, -0.2], [253.8, -0.5], [254.6, -0.6],
  [255.4, 1.8], [256.6, 2.5], [257.8, 2.2], [259, 2.1], [260.4, 2.6], [261.6, 2.7], [262.9, 2], [264.2, 1],
  [265.4, -0.2], [266.7, 0], [268, 0.6], [269.3, 1.3], [270.5, 1.4], [271.8, 0.9], [273.2, 0.6], [274.6, 0.4],
  [276, 0.8], [277.4, 1.1], [278.8, 1.6], [280.2, 1.9], [281.6, 1.4], [282.9, 1], [284, 0.3], [285.2, 0.7],
  [286.4, 0.1], [287.6, -0.9], [288.6, -2.2], [289.3, -0.8], [289.7, 0], [318.8, 0], [319.6, -0.5], [320.6, 1],
  [321.9, 1.5], [323.2, 2.1], [324.4, 1.7], [325.6, 1.2], [326.9, 0.7], [328.2, 1], [329.4, 1.3], [330.6, 1],
  [331.8, 1.8], [333, 0.9], [334.2, 0.3], [335.4, 1], [336.6, 0.3], [337.8, 1.1], [339, 1.6], [340.2, 2],
  [341.2, 2.4], [342.4, 1.3], [343.6, 0], [344.8, -0.9], [346, -0.2], [347.2, -0.6], [348.4, -0.7], [349.6, -1.3],
  [350.6, -2.6], [351.6, -1.9], [352.8, -0.7], [354, -0.5], [355.2, -0.2], [356.3, 0.1], [357.2, 0], [370, 0],
];

const W = 1331;
const H = 1725;
const plotLeft = 124;
const plotRight = 1305;
const FONT = "'Liberation Serif', 'Times New Roman', serif";

const styles: Record<string, { dash?: string; width: number; color: string }> = {
  solid: { width: 1.4, color: "#000" },
  dashdot: { dash: "7,3,1.5,3", width: 1.3, color: "#111" },
  dotted: { dash: "1.2,2.4", width: 1.1, color: "#555" },
  dashed: { dash: "6,4", width: 1.6, color: "#000" },
};

const x = d3.scaleLinear().domain([0, 400]).range([plotLeft, plotRight]);

// the scanned lettering is taller, narrower and a little heavier than plain Times
function Txt(props: {
  x: number;
  y: number;
  size: number;
  sx?: number;
  sy?: number;
  anchor?: string;
  rotate?: number;
  wordSpacing?: number;
  children: React.ReactNode;
}) {
  const { x, y, size, sx = 1, sy = 1.12, anchor = "middle", rotate = 0, wordSpacing } = props;
  return (
    <text
      transform={`translate(${x},${y}) rotate(${rotate}) scale(${sx},${sy})`}
      textAnchor={anchor}
      fontSize={size}
      fontFamily={FONT}
      fill="#000"
      stroke="#000"
      strokeWidth={0.45}
      style={wordSpacing ? { wordSpacing: `${wordSpacing}px` } : undefined}
    >
      {props.children}
    </text>
  );
}

type Series = { data: Pt[]; kind: keyof typeof styles };

function Panel(props: {
  id: string;
  top: number;
  bottom: number;
  domain: [number, number];
  ticks: number[];
  title: string;
  titleX?: number;
  titleSpacing?: number;
  ylabel: string;
  series: Series[];
}) {
  const { id, top, bottom, domain, ticks, title, ylabel, series } = props;
  const y = d3.scaleLinear().domain(domain).range([bottom, top]);
  const line = d3
    .line<Pt>()
    .x((d) => x(d[0]))
    .y((d) => y(d[1]));
  const tl = 9;
  return (
    <g>
      <defs>
        <clipPath id={id}>
          <rect x={plotLeft} y={top} width={plotRight - plotLeft} height={bottom - top} />
        </clipPath>
      </defs>
      <Txt x={props.titleX ?? (plotLeft + plotRight) / 2} y={top - 20} size={34} wordSpacing={props.titleSpacing}>
        {title}
      </Txt>
      <Txt x={58} y={(top + bottom) / 2} size={34} rotate={-90}>
        {ylabel}
      </Txt>
      <g clipPath={`url(#${id})`}>
        {series.map((s, i) => {
          const st = styles[s.kind];
          return (
            <path
              key={i}
              d={line(s.data) ?? ""}
              fill="none"
              stroke={st.color}
              strokeWidth={st.width}
              strokeDasharray={st.dash}
              strokeLinejoin="round"
            />
          );
        })}
      </g>
      {xTicks.map((t) => (
        <g key={`x${t}`}>
          <line x1={x(t)} x2={x(t)} y1={bottom} y2={bottom - tl} stroke="#000" strokeWidth={1.3} />
          <line x1={x(t)} x2={x(t)} y1={top} y2={top + tl} stroke="#000" strokeWidth={1.3} />
          <Txt x={x(t)} y={bottom + 36} size={31} sx={0.9} sy={1.22}>
            {t}
          </Txt>
        </g>
      ))}
      {ticks.map((t) => (
        <g key={`y${t}`}>
          <line x1={plotLeft} x2={plotLeft + tl} y1={y(t)} y2={y(t)} stroke="#000" strokeWidth={1.3} />
          <line x1={plotRight} x2={plotRight - tl} y1={y(t)} y2={y(t)} stroke="#000" strokeWidth={1.3} />
          <Txt x={plotLeft - 9} y={y(t) + 12} size={31} sx={0.9} sy={1.22} anchor="end">
            {t}
          </Txt>
        </g>
      ))}
      <rect
        x={plotLeft}
        y={top}
        width={plotRight - plotLeft}
        height={bottom - top}
        fill="none"
        stroke="#000"
        strokeWidth={2.2}
      />
    </g>
  );
}

export default function App() {
  return (
    <svg width={W} height={H} style={{ position: "absolute", left: 0, top: 0, background: "#fff" }}>
      <Panel
        id="p1"
        top={62}
        bottom={337}
        domain={[-20, 20]}
        ticks={snrTicks}
        title="SNR of corrupted speech (Global SNR = 0 dB)"
        titleX={698}
        titleSpacing={8}
        ylabel="SNR [dB]"
        series={[{ data: snrCorrupted, kind: "solid" }]}
      />
      <Panel
        id="p2"
        top={496}
        bottom={772}
        domain={[-5, 25]}
        ticks={snreTicks}
        title="SNR improvement"
        ylabel="SNRE [dB]"
        series={[
          { data: snreDotted, kind: "dotted" },
          { data: snreDashed, kind: "dashed" },
          { data: snreDashDot, kind: "dashdot" },
          { data: snreSolid, kind: "solid" },
        ]}
      />
      <Panel
        id="p3"
        top={922}
        bottom={1197}
        domain={[0, 15]}
        ticks={cdTicks}
        title="Cepstral distance between corrupted and clean speech"
        ylabel="CD [dB]"
        series={[{ data: cdCorrupted, kind: "solid" }]}
      />
      <Panel
        id="p4"
        top={1356}
        bottom={1631}
        domain={[-4, 4]}
        ticks={cdeTicks}
        title="Cepstral distance improvement"
        ylabel="CDE [dB]"
        series={[
          { data: cdeDotted, kind: "dotted" },
          { data: cdeDashed, kind: "dashed" },
          { data: cdeDashDot, kind: "dashdot" },
          { data: cdeSolid, kind: "solid" },
        ]}
      />
      <Txt x={(plotLeft + plotRight) / 2} y={1716} size={34}>
        Signal segments
      </Txt>
    </svg>
  );
}
